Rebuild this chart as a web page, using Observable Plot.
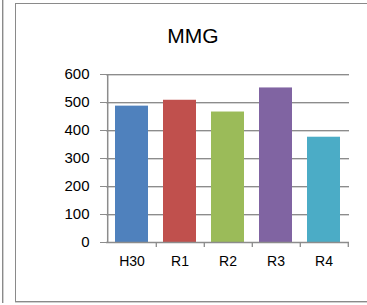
<!DOCTYPE html>
<html>
<head>
<meta charset="utf-8">
<script src="https://cdn.jsdelivr.net/npm/d3@7"></script>
<script src="https://cdn.jsdelivr.net/npm/@observablehq/plot@0.6"></script>
<style>
  html, body { margin: 0; padding: 0; background: #fff; overflow: hidden; }
  #wrap { position: relative; width: 367px; height: 305px; overflow: hidden; font-family: "Liberation Sans", Arial, sans-serif; }
  #leftline { position: absolute; left: 2px; top: 0; width: 1px; height: 303px; background: #8a8a8a; border-right: 1px solid #d0d0d0; }
  #frame { position: absolute; left: 15px; top: 3px; width: 352px; height: 299px; border: 1px solid #8a8a8a; border-right: none; box-shadow: 0 1px 0 #d0d0d0; box-sizing: border-box; }
  #title { position: absolute; left: 0; width: 386px; top: 24px; text-align: center; font-size: 21px; color: #000; }
  #chart { position: absolute; left: 0; top: 0; }
</style>
</head>
<body>
<div id="wrap">
  <div id="leftline"></div>
  <div id="frame"></div>
  <div id="title">MMG</div>
  <div id="chart"></div>
</div>
<script>
const categories = ["H30", "R1", "R2", "R3", "R4"];
const values = [487, 508, 466, 552, 376];
const colors = ["#4F81BD", "#C0504D", "#9BBB59", "#8064A2", "#4BACC6"];
const yTicks = [0, 100, 200, 300, 400, 500, 600];

const data = categories.map((c, i) => ({cat: c, value: values[i]}));

const W = 367, H = 305;
const mL = 106, mR = 18, mT = 74, mB = 63;
const step = (W - mL - mR) / categories.length;
const plotH = H - mT - mB;

const chart = Plot.plot({
  width: W,
  height: H,
  marginLeft: mL,
  marginRight: mR,
  marginTop: mT,
  marginBottom: mB,
  style: {fontFamily: "Liberation Sans, Arial, sans-serif", fontSize: "14px", background: "transparent", color: "#000"},
  x: {domain: categories, paddingInner: 0.32, paddingOuter: 0.16, label: null},
  y: {domain: [0, 600], ticks: yTicks, label: null},
  color: {domain: categories, range: colors},
  marks: [
    Plot.ruleY(yTicks.filter(d => d > 0), {dy: 1, stroke: "#d4d4d4", strokeWidth: 1}),
    Plot.ruleY(yTicks.filter(d => d > 0), {stroke: "#8c8c8c", strokeWidth: 1}),
    Plot.barY(data, {x: "cat", y: "value", fill: "cat"}),
    Plot.ruleY([0], {stroke: "#8c8c8c", strokeWidth: 1.3}),
    Plot.tickX(categories, {x: d => d, dx: step / 2, insetTop: plotH, insetBottom: -5, stroke: "#8c8c8c", strokeWidth: 1.3}),
    Plot.axisY({ticks: yTicks, tickSize: 6, tickPadding: 11, stroke: "#8c8c8c", tickFormat: d => String(d), fill: "#000", fontSize: 15}),
    Plot.ruleX([0], {x: () => categories[0], dx: -step / 2, y1: 0, y2: 600, stroke: "#8c8c8c", strokeWidth: 1.5}),
    Plot.axisX({tickSize: 0, tickPadding: 14, fill: "#000", fontSize: 14})
  ]
});
document.getElementById("chart").appendChild(chart);
</script>
</body>
</html>
